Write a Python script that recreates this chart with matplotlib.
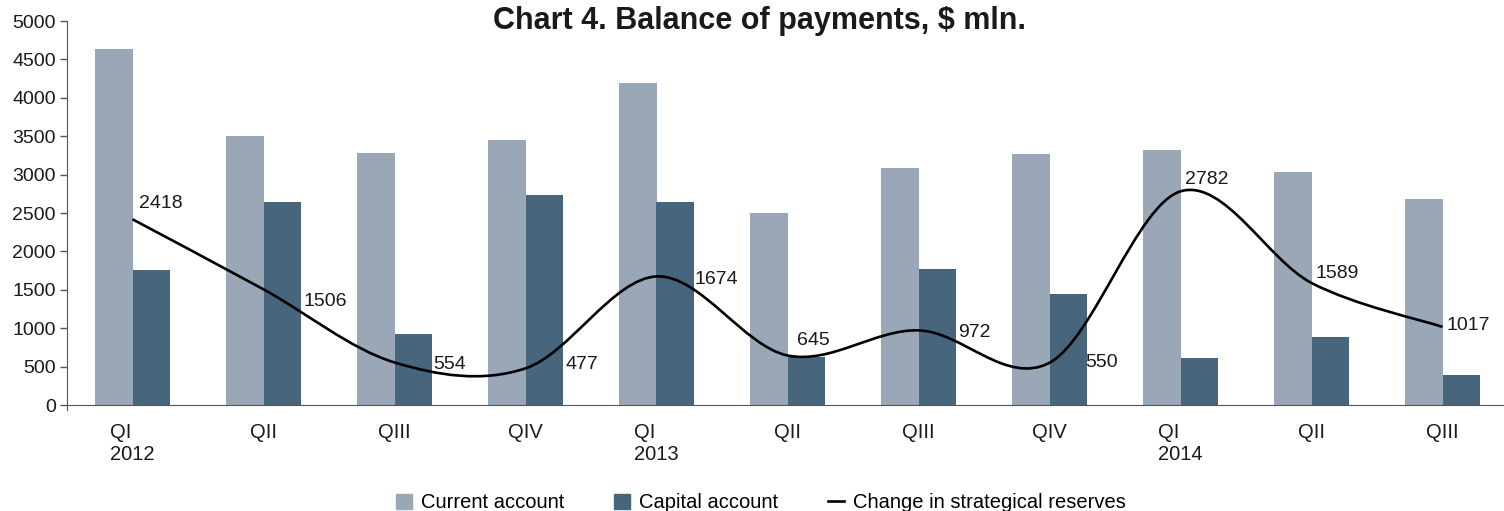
import matplotlib
matplotlib.use("Agg")
import matplotlib.pyplot as plt
import numpy as np
from matplotlib.path import Path
from matplotlib.patches import PathPatch, Patch
from matplotlib.lines import Line2D

# Data, $ mln.
quarters = ["QI\n2012", "QII", "QIII", "QIV", "QI\n2013", "QII", "QIII", "QIV",
            "QI\n2014", "QII", "QIII"]
current_account = [4640, 3500, 3280, 3450, 4190, 2500, 3090, 3270, 3320, 3030, 2680]
capital_account = [1760, 2640, 920, 2740, 2640, 630, 1770, 1450, 610, 890, 390]
reserves_change = [2418, 1506, 554, 477, 1674, 645, 972, 550, 2782, 1589, 1017]

# Label offsets in pixels (dx, dy) relative to the line points.
label_offsets = [(7, 16), (40, -12), (39, -2), (40, 4), (38, -3), (10, 15),
                 (40, -2), (36, 0), (4, 12), (4, 9), (4, 1)]

plt.rcParams['font.family'] = ['Liberation Sans', 'DejaVu Sans']

light = "#9aa7b7"
dark = "#48657e"
axis_color = "#555555"

fig = plt.figure(figsize=(15.04, 5.11), dpi=100)
ax = fig.add_axes([67 / 1504, 106 / 511, 1441 / 1504, 384 / 511])

x = np.arange(len(quarters))
w = 0.29
ax.bar(x - w / 2, current_account, width=w, color=light, zorder=2)
ax.bar(x + w / 2, capital_account, width=w, color=dark, zorder=2)

# Smoothed line (Catmull-Rom style cubic Bezier, like a spreadsheet "smoothed line")
pts = np.column_stack([x, reserves_change]).astype(float)
verts = [pts[0]]
codes = [Path.MOVETO]
n = len(pts)
for i in range(n - 1):
    p0 = pts[i - 1] if i > 0 else pts[i]
    p1 = pts[i]
    p2 = pts[i + 1]
    p3 = pts[i + 2] if i + 2 < n else pts[i + 1]
    c1 = p1 + (p2 - p0) / 6
    c2 = p2 - (p3 - p1) / 6
    verts += [c1, c2, p2]
    codes += [Path.CURVE4] * 3
ax.add_patch(PathPatch(Path(verts, codes), fill=False, edgecolor="black",
                       linewidth=1.9, zorder=3, capstyle="butt"))

for xi, v, (dx, dy) in zip(x, reserves_change, label_offsets):
    ax.annotate(str(v), (xi, v), xytext=(dx, dy), textcoords="offset pixels",
                ha="left", va="center", fontsize=14, color="#1a1a1a", zorder=4)

ax.set_xlim(-0.5, len(quarters) - 0.5)
ax.set_ylim(0, 5000)
ax.set_yticks(np.arange(0, 5001, 500))
ax.set_xticks(x)
ax.set_xticklabels(quarters, fontsize=14.5, color="#1a1a1a", multialignment="left")
ax.tick_params(axis="x", length=0, pad=13)
ax.tick_params(axis="y", length=5, width=1, color=axis_color, pad=3,
               labelsize=14, labelcolor="#1a1a1a")

for s in ["top", "right"]:
    ax.spines[s].set_visible(False)
ax.spines["left"].set_color(axis_color)
ax.spines["bottom"].set_color(axis_color)
ax.spines["left"].set_bounds(-70, 5000)

fig.text(0.505, 0.958, "Chart 4. Balance of payments, $ mln.", ha="center",
         va="center", fontsize=22, fontweight="bold", color="#1a1a1a")

handles = [Patch(color=light, label="Current account"),
           Patch(color=dark, label="Capital account"),
           Line2D([0], [0], color="black", linewidth=1.9,
                  label="Change in strategical reserves")]
fig.legend(handles=handles, loc="center", bbox_to_anchor=(0.506, 0.016), ncol=3,
           frameon=False, fontsize=14.5, handlelength=0.8, handleheight=0.8,
           columnspacing=2.45, handletextpad=0.45)

fig.savefig("out.png", dpi=100)
